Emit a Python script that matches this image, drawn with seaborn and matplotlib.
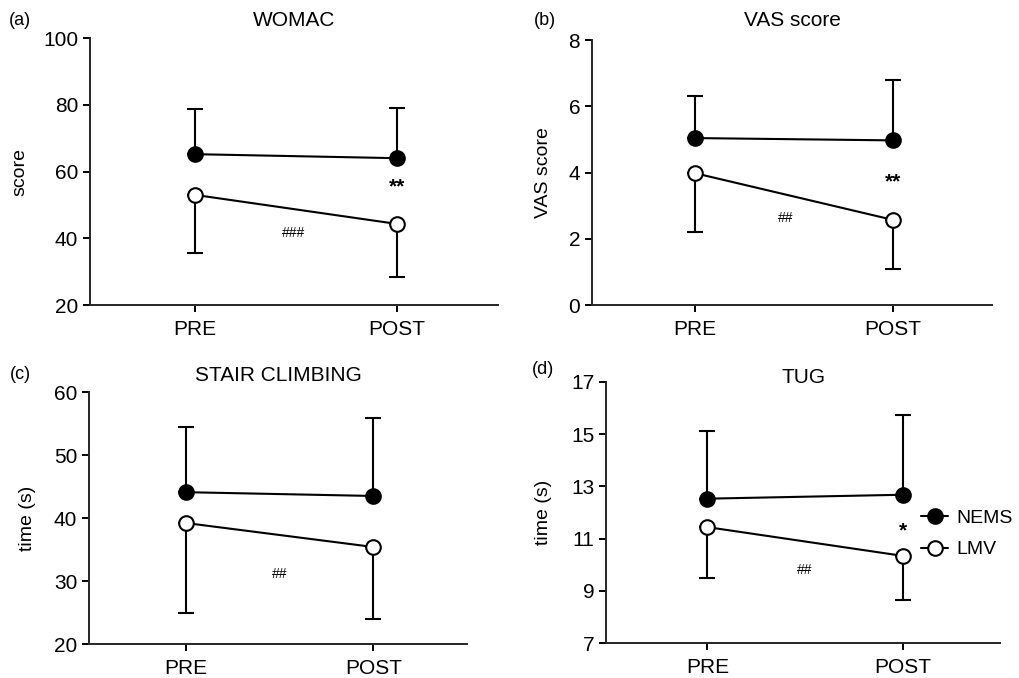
import numpy as np
import pandas as pd
import matplotlib
matplotlib.use("Agg")
import matplotlib.pyplot as plt
import seaborn as sns

# values (means, and the one-sided SD bar end)
timepoints = ["PRE", "POST"]
groups = ["NEMS", "LMV"]

womac_nems = [65.2, 64.0]
womac_nems_upper = [78.7, 79.1]
womac_lmv = [53.0, 44.3]
womac_lmv_lower = [35.5, 28.5]

vas_nems = [5.04, 4.97]
vas_nems_upper = [6.31, 6.79]
vas_lmv = [3.98, 2.57]
vas_lmv_lower = [2.2, 1.09]

stair_nems = [44.1, 43.5]
stair_nems_upper = [54.4, 55.9]
stair_lmv = [39.2, 35.4]
stair_lmv_lower = [24.9, 24.0]

tug_nems = [12.53, 12.68]
tug_nems_upper = [15.12, 15.74]
tug_lmv = [11.44, 10.34]
tug_lmv_lower = [9.49, 8.65]

sns.set_style("ticks")
plt.rcParams['font.family'] = ['Liberation Sans', 'DejaVu Sans']
plt.rcParams['axes.linewidth'] = 1.4
plt.rcParams['text.color'] = 'black'
plt.rcParams['axes.labelcolor'] = 'black'

fig = plt.figure(figsize=(10.19, 6.78), dpi=100)

panels = [
    dict(tag="(a)", title="WOMAC", ylabel="score",
         nems=womac_nems, nems_up=womac_nems_upper, lmv=womac_lmv, lmv_lo=womac_lmv_lower,
         ylim=(20, 100), yticks=[20, 40, 60, 80, 100],
         rect=[0.0883, 0.5501, 0.4004, 0.3938], title_y=1.067, ylab_x=-0.150,
         tag_xy=(0.020, 0.970),
         notes=[("**", 1, 55.5, 15), ("###", 0.49, 41.5, 10)]),
    dict(tag="(b)", title="VAS score", ylabel="VAS score",
         nems=vas_nems, nems_up=vas_nems_upper, lmv=vas_lmv, lmv_lo=vas_lmv_lower,
         ylim=(0, 8), yticks=[0, 2, 4, 6, 8],
         rect=[0.5810, 0.5501, 0.3925, 0.3909], title_y=1.075, ylab_x=-0.100,
         tag_xy=(0.535, 0.970),
         notes=[("**", 1, 3.72, 15), ("##", 0.46, 2.63, 10)]),
    dict(tag="(c)", title="STAIR CLIMBING", ylabel="time (s)",
         nems=stair_nems, nems_up=stair_nems_upper, lmv=stair_lmv, lmv_lo=stair_lmv_lower,
         ylim=(20, 60), yticks=[20, 30, 40, 50, 60],
         rect=[0.0873, 0.0501, 0.3710, 0.3717], title_y=1.067, ylab_x=-0.140,
         tag_xy=(0.020, 0.447),
         notes=[("##", 0.5, 31.1, 10)]),
    dict(tag="(d)", title="TUG", ylabel="time (s)",
         nems=tug_nems, nems_up=tug_nems_upper, lmv=tug_lmv, lmv_lo=tug_lmv_lower,
         ylim=(7, 17), yticks=[7, 9, 11, 13, 15, 17],
         rect=[0.5947, 0.0516, 0.3867, 0.3850], title_y=1.019, ylab_x=-0.136,
         tag_xy=(0.533, 0.455),
         notes=[("*", 1, 11.3, 15), ("##", 0.5, 9.8, 10)]),
]

x = np.arange(len(timepoints))

for i, p in enumerate(panels):
    ax = fig.add_axes(p["rect"])
    df = pd.DataFrame({
        "x": np.concatenate([x, x]),
        "value": p["nems"] + p["lmv"],
        "group": [groups[0]] * 2 + [groups[1]] * 2,
    })

    nems = df[df["group"] == "NEMS"]
    lmv = df[df["group"] == "LMV"]

    # one-sided error bars: NEMS up, LMV down
    up = np.array(p["nems_up"]) - np.array(p["nems"])
    lo = np.array(p["lmv"]) - np.array(p["lmv_lo"])
    ax.errorbar(x, p["nems"], yerr=[np.zeros(2), up], fmt="none", ecolor="black",
                elinewidth=1.5, capsize=6, capthick=1.5, zorder=2)
    ax.errorbar(x, p["lmv"], yerr=[lo, np.zeros(2)], fmt="none", ecolor="black",
                elinewidth=1.5, capsize=6, capthick=1.5, zorder=2)

    show_leg = i == 3
    sns.lineplot(data=nems, x="x", y="value", color="black", marker="o", markersize=10.5,
                 markerfacecolor="black", markeredgecolor="black", markeredgewidth=1.5,
                 linewidth=1.5, ax=ax, zorder=3, label="NEMS" if show_leg else None,
                 legend=show_leg)
    sns.lineplot(data=lmv, x="x", y="value", color="black", marker="o", markersize=10.5,
                 markerfacecolor="white", markeredgecolor="black", markeredgewidth=1.5,
                 linewidth=1.5, ax=ax, zorder=3, label="LMV" if show_leg else None,
                 legend=show_leg)

    ax.set_xlim(-0.52, 1.5)
    ax.set_ylim(*p["ylim"])
    ax.set_yticks(p["yticks"])
    ax.set_xticks(x)
    ax.set_xticklabels(timepoints)
    ax.tick_params(axis="both", labelsize=15, length=5, width=1.4, colors="black")
    ax.tick_params(axis="x", pad=6)
    ax.set_xlabel("")
    ax.set_ylabel(p["ylabel"], fontsize=14)
    ax.yaxis.set_label_coords(p["ylab_x"], 0.5)
    sns.despine(ax=ax)

    ax.text(0.5, p["title_y"], p["title"], transform=ax.transAxes, ha="center",
            va="center", fontsize=15)
    fig.text(p["tag_xy"][0], p["tag_xy"][1], p["tag"], ha="center", va="center", fontsize=13)

    for txt, nx, ny, fs in p["notes"]:
        ax.text(nx, ny, txt, ha="center", va="center", fontsize=fs,
                fontweight="bold" if "*" in txt else "normal",
                color="black", zorder=4)

    if show_leg:
        ax.legend(loc="center left", bbox_to_anchor=(0.80, 0.418), frameon=False,
                  fontsize=14, handlelength=1.4, handletextpad=0.4, borderaxespad=0,
                  borderpad=0, labelspacing=0.7)

fig.savefig("out.png", dpi=100)
